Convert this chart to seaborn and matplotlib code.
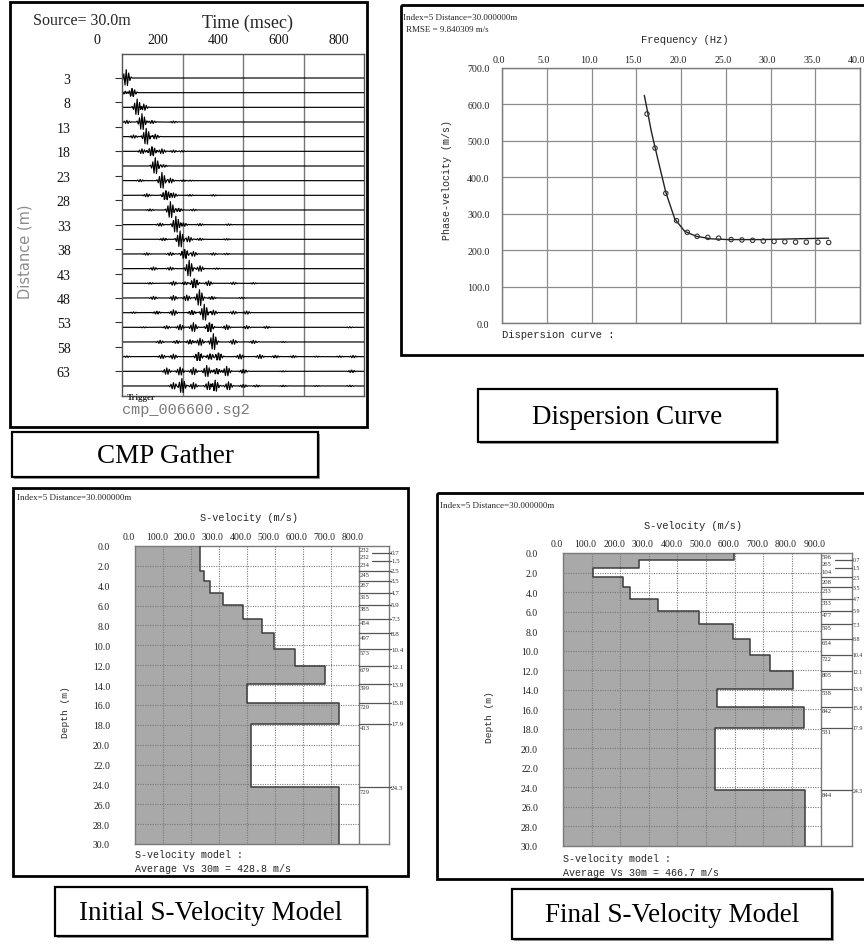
import numpy as np
import pandas as pd
import matplotlib
matplotlib.use("Agg")
import matplotlib.pyplot as plt
import matplotlib.transforms as mtransforms
from matplotlib.patches import Rectangle
import seaborn as sns

sns.set_theme(style="white")
SERIF = ["Liberation Serif", "DejaVu Serif"]
MONO = ["Liberation Mono", "DejaVu Sans Mono"]
plt.rcParams["font.family"] = SERIF

W, H, DPI = 864, 945, 100

# ---------------- CMP gather ----------------
TIME_TICKS = [0, 200, 400, 600, 800]
DIST_TICKS = [3, 8, 13, 18, 23, 28, 33, 38, 43, 48, 53, 58, 63]
TRACE_OFFSETS = [3, 6, 9, 12, 15, 18, 21, 24, 27, 30, 33,
                 36, 39, 42, 45, 48, 51, 54, 57, 60, 63, 66]
# source wavelet samples, 4 ms apart
WAVELET = [0.0, 0.1, -0.25, 0.5, -0.85, 1.0, -0.9, 0.6, -0.3, 0.12, 0.0]
WAVELET_DT = 4
# (arrival time in ms, relative amplitude) for each trace
TRACE_EVENTS = [
    [(14, 1.0)],
    [(11, 0.3), (33, 0.9)],
    [(50, 1.0), (72, 0.4)],
    [(16, 0.2), (66, 1.0), (99, 0.3), (170, 0.12)],
    [(38, 0.2), (80, 1.0), (110, 0.3)],
    [(66, 0.3), (99, 1.0), (132, 0.3), (170, 0.15), (198, 0.1)],
    [(110, 1.0), (137, 0.25)],
    [(60, 0.15), (132, 1.0), (160, 0.3), (203, 0.15), (225, 0.1)],
    [(82, 0.2), (145, 1.0), (170, 0.3), (225, 0.15), (302, 0.1)],
    [(93, 0.2), (160, 1.0), (187, 0.35), (236, 0.12)],
    [(126, 0.2), (178, 1.0), (203, 0.35), (258, 0.15), (352, 0.1)],
    [(137, 0.25), (192, 1.0), (220, 0.35), (258, 0.15), (346, 0.1)],
    [(82, 0.15), (160, 0.2), (207, 1.0), (236, 0.3), (302, 0.15), (346, 0.1)],
    [(104, 0.2), (160, 0.2), (222, 1.0), (258, 0.35), (313, 0.12)],
    [(93, 0.15), (170, 0.25), (209, 0.3), (239, 1.0), (286, 0.3), (368, 0.15), (434, 0.1)],
    [(104, 0.2), (170, 0.3), (214, 0.35), (256, 1.0), (297, 0.3), (396, 0.1)],
    [(38, 0.1), (115, 0.3), (170, 0.35), (231, 0.45), (272, 1.0), (302, 0.3),
     (368, 0.2), (412, 0.2)],
    [(71, 0.1), (148, 0.2), (192, 0.35), (236, 0.55), (289, 1.0), (346, 0.3),
     (412, 0.2), (478, 0.15), (753, 0.1)],
    [(126, 0.2), (181, 0.3), (225, 0.45), (258, 0.45), (302, 1.0), (368, 0.3),
     (434, 0.2), (533, 0.1)],
    [(16, 0.1), (132, 0.25), (170, 0.3), (253, 0.9), (291, 0.6), (319, 0.8),
     (390, 0.3), (456, 0.25), (507, 0.25), (566, 0.15), (643, 0.1), (720, 0.1), (764, 0.15)],
    [(148, 0.4), (192, 0.5), (236, 0.45), (280, 0.7), (313, 0.6), (346, 0.6),
     (401, 0.4), (533, 0.1), (759, 0.25)],
    [(170, 0.4), (198, 0.9), (236, 0.4), (286, 0.5), (308, 0.7), (352, 0.5),
     (401, 0.3), (445, 0.2), (533, 0.15), (643, 0.1), (753, 0.15)],
]
TRACE_GAIN = 1.7

# ---------------- dispersion curve ----------------
FREQ_TICKS = [0, 5, 10, 15, 20, 25, 30, 35, 40]
PHASE_TICKS = [0, 100, 200, 300, 400, 500, 600, 700]
OBS_FREQ = [16.2, 17.1, 18.3, 19.5, 20.7, 21.8, 23.0, 24.2, 25.6, 26.8,
            28.0, 29.2, 30.4, 31.6, 32.8, 34.0, 35.3, 36.5]
OBS_VEL = [574, 480, 356, 281, 249, 238, 235, 233, 229, 228,
           227, 225, 224, 223, 222, 222, 222, 221]
FIT_FREQ = [15.9, 16.3, 16.7, 17.4, 18.3, 19.3, 20.4, 21.7, 23.4, 25.3, 29.0, 32.7, 36.5]
FIT_VEL = [625, 575, 524, 451, 359, 286, 252, 238, 231, 229, 229, 231, 233]

# ---------------- S-velocity models ----------------
LAYER_BOUNDS = [0.0, 0.7, 1.5, 2.5, 3.5, 4.7, 5.9, 7.3, 8.8, 10.4, 12.1,
                13.9, 15.8, 17.9, 24.3, 30.0]
BOUND_LABELS = ["0.7", "1.5", "2.5", "3.5", "4.7", "5.9", "7.3", "8.8",
                "10.4", "12.1", "13.9", "15.8", "17.9", "24.3"]
INITIAL_VS = [232, 232, 234, 245, 267, 315, 385, 454, 497, 573, 679, 399, 729, 413, 729]
FINAL_VS = [596, 265, 104, 208, 233, 333, 477, 595, 654, 722, 805, 538, 842, 531, 844]
DEPTH_TICKS = list(range(0, 31, 2))
INITIAL_VEL_TICKS = list(range(0, 801, 100))
FINAL_VEL_TICKS = list(range(0, 901, 100))

BAR_GRAY = "#a9a9a9"
EDGE_GRAY = "#3c3c3c"
GRID_GRAY = "#7a7a7a"
SPINE_GRAY = "#7a7a7a"

fig = plt.figure(figsize=(W / DPI, H / DPI), dpi=DPI)
fig.patch.set_facecolor("white")

# page-level layer in pixel units for frames and captions
bg = fig.add_axes([0, 0, 1, 1], zorder=0)
bg.set_xlim(0, W)
bg.set_ylim(H, 0)
bg.axis("off")


def px_rect(x0, y0, x1, y1):
    return [x0 / W, 1 - y1 / H, (x1 - x0) / W, (y1 - y0) / H]


def shift_labels(labels, dx_px, dy_px=0):
    off = mtransforms.ScaledTranslation(dx_px / DPI, dy_px / DPI, fig.dpi_scale_trans)
    for lab in labels:
        lab.set_transform(lab.get_transform() + off)


def frame(x0, y0, x1, y1, lw=2.0):
    bg.add_patch(Rectangle((x0, y0), x1 - x0, y1 - y0, fill=False,
                           edgecolor="black", lw=lw))


def caption(x0, y0, x1, y1, text):
    bg.add_patch(Rectangle((x0 + 2, y0 + 2), x1 - x0, y1 - y0,
                           facecolor="#9a9a9a", edgecolor="none"))
    bg.add_patch(Rectangle((x0, y0), x1 - x0, y1 - y0, facecolor="white",
                           edgecolor="black", lw=1.6))
    bg.text((x0 + x1) / 2, (y0 + y1) / 2 + 1, text, ha="center", va="center",
            fontsize=19.5, family=SERIF, color="black")


def style_spines(ax, color=SPINE_GRAY, lw=1.0):
    for sp in ax.spines.values():
        sp.set_visible(True)
        sp.set_color(color)
        sp.set_linewidth(lw)


# ======== CMP gather ========
frame(10, 3, 367, 428)
ax1 = fig.add_axes(px_rect(122, 55, 364, 397), zorder=1)
ax1.set_facecolor("white")

t = np.arange(0, 801, 2.0)
wave = np.array(WAVELET)
wave_t = np.arange(len(wave)) * WAVELET_DT - (len(wave) - 1) * WAVELET_DT / 2
rows = []
for k, (off, events) in enumerate(zip(TRACE_OFFSETS, TRACE_EVENTS)):
    sig = np.zeros_like(t)
    for t0, amp in events:
        sig += amp * np.interp(t - t0, wave_t, wave, left=0.0, right=0.0)
    rows.append(pd.DataFrame({"trace": k, "time": t, "y": off - TRACE_GAIN * sig}))
traces = pd.concat(rows, ignore_index=True)

for tv in TIME_TICKS[1:-1]:
    ax1.axvline(tv, color="#777777", lw=1.0, zorder=0)
sns.lineplot(data=traces, x="time", y="y", units="trace", estimator=None,
             sort=False, color="black", linewidth=0.85, ax=ax1, legend=False)
ax1.set_xlim(0, 800)
ax1.set_ylim(68.05, -1.91)
ax1.set_xticks(TIME_TICKS)
ax1.set_xticklabels([str(v) for v in TIME_TICKS])
ax1.set_yticks(DIST_TICKS)
ax1.set_yticklabels([str(v) for v in DIST_TICKS])
ax1.xaxis.tick_top()
ax1.tick_params(axis="x", top=True, bottom=False, labeltop=True, labelbottom=False,
                length=0, pad=6, labelsize=10, colors="#111111")
ax1.tick_params(axis="y", left=True, length=5, width=0.8, color="#333333",
                pad=32, labelsize=10, labelcolor="#111111")
ax1.set_xlabel("")
ax1.set_ylabel("")
style_spines(ax1, "#555555", 1.0)
shift_labels(ax1.get_xticklabels(), -25)
ax1.text(0.02, -0.003, "Trigger", transform=ax1.transAxes, fontsize=6.5,
         fontweight="bold", va="center", ha="left", family=SERIF)

bg.text(33, 21, "Source= 30.0m", fontsize=11.5, va="center", ha="left", family=SERIF)
bg.text(247, 23, "Time (msec)", fontsize=13, va="center", ha="center", family=SERIF)
bg.text(25, 252, "Distance (m)", fontsize=10.5, rotation=90, va="center", ha="center",
        family=["DejaVu Sans"], color="#8c8c8c")
bg.text(122, 410, "cmp_006600.sg2", fontsize=11, va="center", ha="left",
        family=MONO, color="#7a7a7a")
caption(12, 433, 318, 478, "CMP Gather")

# ======== dispersion curve ========
frame(401, 6, 870, 356)
ax2 = fig.add_axes(px_rect(502, 69, 860, 324), zorder=1)
ax2.set_facecolor("white")
ax2.set_xlim(0, 40)
ax2.set_ylim(0, 700)
ax2.set_xticks(FREQ_TICKS)
ax2.set_xticklabels([f"{v:.1f}" for v in FREQ_TICKS])
ax2.set_yticks(PHASE_TICKS)
ax2.set_yticklabels([f"{v:.1f}" for v in PHASE_TICKS])
ax2.grid(True, color="#8c8c8c", lw=0.9)
ax2.xaxis.tick_top()
ax2.tick_params(axis="x", top=False, bottom=False, labeltop=True, labelbottom=False,
                length=0, pad=3, labelsize=7.2, colors="#222222")
ax2.tick_params(axis="y", left=False, length=0, pad=9, labelsize=7.2, colors="#222222")
shift_labels(ax2.get_xticklabels(), -3)
sns.lineplot(x=FIT_FREQ, y=FIT_VEL, sort=False, estimator=None, color="#222222",
             linewidth=1.0, ax=ax2)
sns.scatterplot(x=OBS_FREQ, y=OBS_VEL, marker="o", s=10, facecolor="none",
                edgecolor="#333333", linewidth=0.8, ax=ax2, zorder=3)
ax2.set_xlabel("")
ax2.set_ylabel("")
style_spines(ax2, SPINE_GRAY, 1.0)

bg.text(403, 18, "Index=5 Distance=30.000000m", fontsize=6.5, ha="left", va="center", family=SERIF)
bg.text(406, 30, "RMSE = 9.840309 m/s", fontsize=6.5, ha="left", va="center", family=SERIF)
bg.text(685, 40, "Frequency (Hz)", fontsize=7.6, ha="center", va="center", family=MONO)
bg.text(447, 180, "Phase-velocity (m/s)", fontsize=7.2, rotation=90, ha="center",
        va="center", family=MONO)
bg.text(502, 335, "Dispersion curve :", fontsize=7.6, ha="left", va="center", family=MONO)
caption(478, 390, 777, 443, "Dispersion Curve")


# ======== S-velocity models ========
def draw_model(rect, vs, vel_ticks, col_w, avg_text, label_pos, depth_fs=5.0, depth_gap=1.07):
    vmax = vel_ticks[-1]
    ax = fig.add_axes(px_rect(*rect), zorder=1)
    ax.set_facecolor("white")
    xs = np.repeat(vs, 2)
    ys = np.repeat(LAYER_BOUNDS, 2)[1:-1]
    ax.fill_betweenx(ys, 0, xs, color=BAR_GRAY, lw=0, zorder=1)
    sns.lineplot(x=xs, y=ys, sort=False, estimator=None, color=EDGE_GRAY,
                 linewidth=1.1, ax=ax, zorder=3)
    ax.vlines(vel_ticks[1:-1], 0, 30, colors=GRID_GRAY, linestyles=(0, (1, 1.2)),
              lw=0.8, zorder=2)
    ax.hlines(DEPTH_TICKS[1:-1], 0, vmax, colors=GRID_GRAY, linestyles=(0, (1, 1.2)),
              lw=0.8, zorder=2)
    ax.axvline(vmax, color=SPINE_GRAY, lw=1.0, zorder=2)
    ax.set_xlim(0, vmax + col_w)
    ax.set_ylim(30, 0)
    ax.set_xticks(vel_ticks)
    ax.set_xticklabels([f"{v:.1f}" for v in vel_ticks])
    ax.set_yticks(DEPTH_TICKS)
    ax.set_yticklabels([f"{v:.1f}" for v in DEPTH_TICKS])
    ax.xaxis.tick_top()
    ax.tick_params(axis="x", top=False, bottom=False, labeltop=True, labelbottom=False,
                   length=0, pad=3.5, labelsize=7, colors="#222222")
    ax.tick_params(axis="y", left=False, length=0, pad=18, labelsize=7, colors="#222222")
    shift_labels(ax.get_xticklabels(), -6)
    ax.set_xlabel("")
    ax.set_ylabel("")
    style_spines(ax, SPINE_GRAY, 1.0)

    # layer velocity column
    for top, v in zip(LAYER_BOUNDS[:-1], vs):
        ax.text(vmax + col_w * 0.04, top + 0.12, str(v), fontsize=4.8, va="top",
                ha="left", color="#333333", zorder=4)
    for j, (b, lab) in enumerate(zip(LAYER_BOUNDS[1:-1], BOUND_LABELS)):
        x_start = vmax + (col_w * 0.45 if j < 2 else 0)
        ax.plot([x_start, vmax + col_w * (depth_gap - 0.01)], [b, b], color="#555555",
                lw=0.9, clip_on=False, zorder=4)
        ax.text(vmax + col_w * depth_gap, b, lab, fontsize=depth_fs, va="center",
                ha="left", color="#333333", clip_on=False, zorder=4)

    (ix, iy), (sx, sy), (dx, dy), (mx, my) = label_pos
    bg.text(ix, iy, "Index=5 Distance=30.000000m", fontsize=6.5, ha="left",
            va="center", family=SERIF)
    bg.text(sx, sy, "S-velocity (m/s)", fontsize=7.4, ha="center", va="center", family=MONO)
    bg.text(dx, dy, "Depth (m)", fontsize=6.8, rotation=90, ha="center", va="center",
            family=MONO)
    bg.text(mx, my, "S-velocity model :", fontsize=7.2, ha="left", va="center", family=MONO)
    bg.text(mx, my + 14, avg_text, fontsize=7.2, ha="left", va="center", family=MONO)
    return ax


frame(13, 489, 408, 877)
draw_model((135, 547, 389, 845), INITIAL_VS, INITIAL_VEL_TICKS, 108,
           "Average Vs 30m = 428.8 m/s",
           [(17, 498), (249, 518), (65, 712), (135, 855)])
caption(55, 888, 367, 937, "Initial S-Velocity Model")

frame(437, 494, 872, 880)
draw_model((563, 554, 852, 847), FINAL_VS, FINAL_VEL_TICKS, 110,
           "Average Vs 30m = 466.7 m/s",
           [(440, 506), (693, 526), (490, 717), (563, 859)],
           depth_fs=4.2, depth_gap=1.02)
caption(512, 890, 832, 940, "Final S-Velocity Model")

fig.savefig("out.png", dpi=DPI, facecolor="white")
